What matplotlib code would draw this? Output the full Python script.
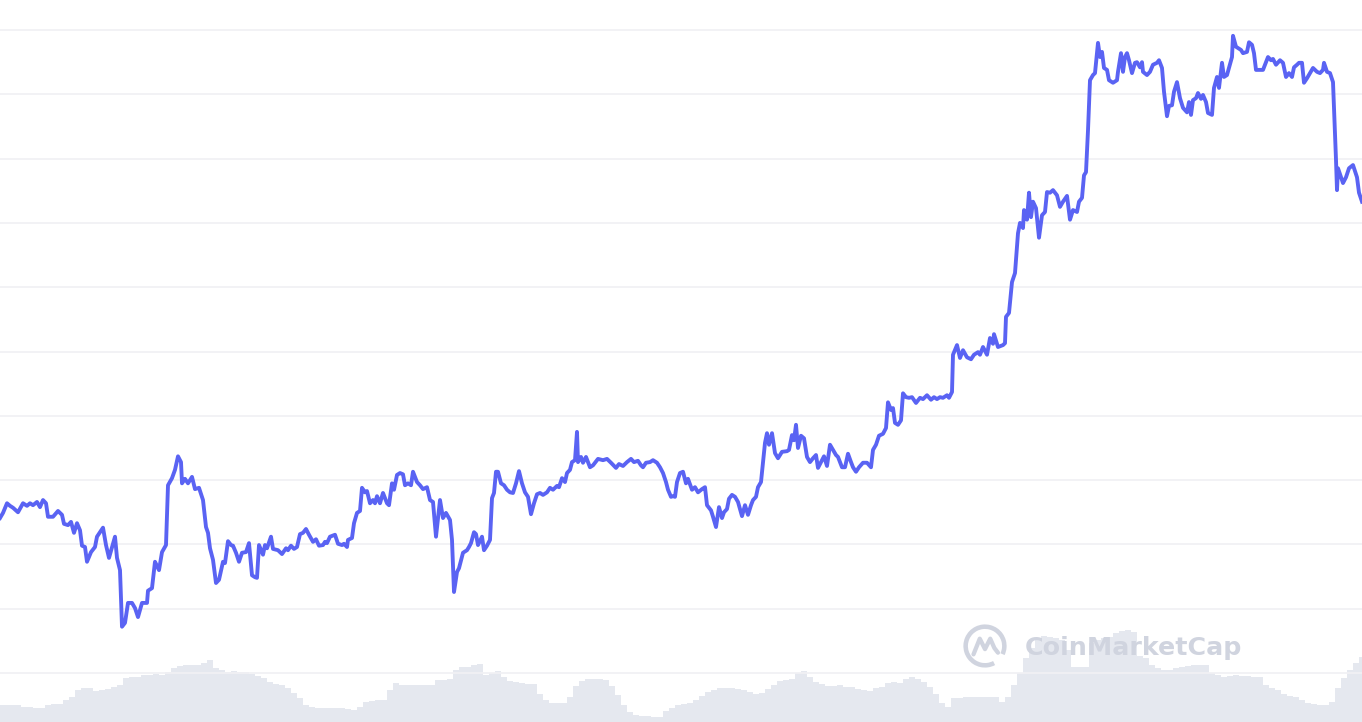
import matplotlib
matplotlib.use("Agg")
import matplotlib.pyplot as plt
from matplotlib.patches import Arc
import numpy as np

# price series (time index, price units; gridlines every 10 units)
T = [0, 3, 7, 10, 13, 18, 23, 27, 30, 33, 37, 40, 43, 46, 48, 53, 58, 62, 64, 68,
     71, 74, 77, 80, 82, 85, 87, 91, 95, 97, 103, 106, 109, 115, 117, 120, 122, 125, 128, 132,
     135, 138, 142, 147, 148, 152, 155, 159, 162, 166, 168, 172, 175, 178, 181, 182, 185, 188, 192, 195,
     199, 203, 206, 208, 210, 213, 216, 219, 223, 225, 228, 231, 233, 236, 239, 242, 246, 249, 252, 255,
     257, 259, 263, 265, 267, 271, 273, 278, 282, 286, 288, 291, 294, 297, 300, 303, 306, 309, 313, 316,
     319, 323, 325, 327, 330, 335, 338, 342, 344, 347, 348, 352, 354, 357, 360, 362, 365, 367, 370, 373,
     375, 377, 380, 383, 387, 389, 392, 394, 397, 400, 403, 405, 408, 411, 413, 417, 420, 423, 427, 430,
     433, 436, 440, 443, 446, 450, 452, 454, 457, 459, 463, 467, 469, 471, 474, 476, 478, 482, 484, 487,
     490, 492, 494, 496, 498, 501, 504, 507, 510, 513, 516, 519, 522, 525, 528, 531, 534, 537, 540, 543,
     547, 550, 553, 557, 559, 562, 565, 567, 570, 572, 575, 577, 578, 581, 583, 586, 590, 593, 598, 603,
     607, 611, 616, 619, 623, 627, 631, 634, 638, 641, 643, 646, 650, 653, 657, 660, 663, 666, 668, 671,
     673, 675, 677, 680, 683, 686, 688, 692, 695, 698, 702, 705, 707, 711, 713, 716, 719, 722, 724, 727,
     729, 732, 735, 738, 742, 745, 748, 751, 753, 756, 758, 761, 763, 765, 767, 769, 772, 775, 778, 782,
     787, 789, 792, 794, 796, 798, 801, 804, 807, 810, 813, 816, 818, 822, 824, 827, 830, 833, 836, 838,
     842, 845, 848, 851, 853, 856, 859, 863, 867, 871, 873, 876, 879, 883, 886, 888, 891, 893, 895, 898,
     901, 903, 906, 909, 912, 916, 920, 923, 927, 931, 934, 937, 940, 943, 947, 949, 952, 953, 957, 960,
     963, 967, 971, 974, 978, 980, 983, 987, 990, 993, 994, 998, 1003, 1005, 1006, 1009, 1012, 1015, 1018, 1020,
     1023, 1024, 1027, 1029, 1031, 1033, 1036, 1039, 1042, 1045, 1047, 1050, 1053, 1057, 1060, 1063, 1067, 1070, 1073, 1077,
     1079, 1082, 1084, 1086, 1088, 1090, 1093, 1095, 1097, 1098, 1100, 1102, 1104, 1107, 1109, 1113, 1117, 1118, 1121, 1123,
     1125, 1127, 1129, 1132, 1135, 1137, 1140, 1142, 1143, 1147, 1150, 1153, 1157, 1159, 1162, 1164, 1167, 1169, 1172, 1174,
     1177, 1180, 1183, 1187, 1189, 1191, 1193, 1196, 1198, 1201, 1203, 1206, 1208, 1212, 1214, 1217, 1219, 1222, 1224, 1227,
     1229, 1232, 1233, 1236, 1238, 1241, 1243, 1247, 1249, 1252, 1254, 1256, 1260, 1263, 1266, 1268, 1271, 1273, 1276, 1280,
     1283, 1286, 1289, 1292, 1294, 1297, 1299, 1302, 1304, 1307, 1310, 1313, 1317, 1320, 1323, 1324, 1327, 1330, 1333, 1334,
     1336, 1337, 1338, 1341, 1343, 1346, 1349, 1353, 1357, 1359, 1362]

PRICE = [24.1, 24.9, 26.4, 26.0, 25.7, 25.0, 26.4, 26.0, 26.4, 26.1, 26.6, 25.8, 26.9, 26.4, 24.3, 24.3, 25.2, 24.6, 23.2, 23.0,
         23.5, 21.8, 23.3, 22.2, 19.8, 19.6, 17.3, 18.8, 19.6, 21.2, 22.6, 19.9, 17.9, 21.2, 17.9, 16.0, 7.2, 7.8, 10.9, 10.9,
         10.1, 8.7, 10.9, 10.9, 12.8, 13.2, 17.3, 16.0, 18.8, 19.9, 29.2, 30.3, 31.6, 33.7, 32.8, 29.5, 30.2, 29.5, 30.5, 28.6,
         28.8, 26.9, 22.7, 21.8, 19.4, 17.6, 14.0, 14.5, 17.3, 17.1, 20.5, 19.9, 19.8, 18.7, 17.3, 18.7, 18.8, 20.2, 15.2, 14.9,
         14.8, 19.9, 18.4, 19.9, 19.4, 21.2, 19.3, 19.1, 18.5, 19.4, 19.1, 19.8, 19.3, 19.6, 21.6, 21.8, 22.4, 21.5, 20.4, 20.8,
         19.8, 19.9, 20.4, 20.2, 21.2, 21.5, 20.1, 19.9, 20.1, 19.6, 20.7, 21.0, 23.3, 24.9, 25.2, 28.8, 28.1, 28.3, 26.4, 26.9,
         26.4, 27.5, 26.4, 28.0, 26.4, 26.1, 29.5, 28.5, 30.8, 31.1, 30.9, 29.2, 29.5, 29.2, 31.3, 29.7, 29.2, 28.6, 28.9, 26.9,
         26.6, 21.2, 26.9, 24.1, 24.9, 23.8, 20.7, 12.6, 15.7, 16.3, 18.7, 19.1, 19.6, 20.2, 21.9, 21.6, 19.9, 21.2, 19.1, 19.8,
         20.7, 27.2, 28.0, 31.3, 31.3, 29.5, 29.2, 28.5, 28.1, 28.0, 29.5, 31.4, 29.5, 28.1, 27.4, 24.7, 26.4, 27.8, 28.0, 27.7,
         28.1, 28.8, 28.5, 29.1, 28.9, 30.3, 29.7, 31.1, 31.6, 32.8, 33.1, 37.5, 32.8, 33.6, 32.7, 33.6, 32.0, 32.3, 33.3, 33.1,
         33.3, 32.7, 31.9, 32.5, 32.2, 32.8, 33.3, 32.8, 33.0, 32.3, 32.0, 32.7, 32.8, 33.1, 32.7, 32.0, 31.1, 29.7, 28.5, 27.4,
         27.5, 27.4, 29.7, 31.1, 31.3, 29.5, 30.2, 28.5, 28.9, 28.1, 28.6, 28.9, 26.1, 25.3, 24.3, 22.7, 25.8, 24.1, 25.0, 25.5,
         27.1, 27.7, 27.4, 26.6, 24.4, 26.1, 24.6, 26.1, 26.9, 27.4, 28.9, 29.7, 32.7, 35.8, 37.3, 35.5, 37.3, 34.2, 33.4, 34.4,
         34.5, 34.7, 37.0, 36.2, 38.6, 35.0, 36.9, 36.5, 33.6, 32.8, 33.4, 33.9, 31.9, 33.1, 33.7, 32.2, 35.5, 34.7, 33.9, 33.6,
         32.0, 32.0, 34.1, 32.8, 32.0, 31.3, 32.0, 32.7, 32.7, 32.0, 34.7, 35.5, 36.9, 37.2, 38.1, 42.1, 40.9, 41.2, 38.9, 38.6,
         39.3, 43.5, 42.9, 42.8, 42.9, 42.0, 42.8, 42.6, 43.2, 42.5, 42.9, 42.6, 42.9, 42.8, 43.2, 42.8, 43.7, 49.5, 51.0, 49.0,
         50.2, 49.1, 48.8, 49.5, 49.9, 49.5, 50.7, 49.5, 52.1, 51.2, 52.7, 50.7, 51.0, 51.3, 55.4, 56.0, 60.8, 62.2, 68.4, 70.0,
         69.2, 72.0, 70.5, 74.7, 70.9, 73.3, 72.3, 67.7, 71.2, 71.7, 74.8, 74.7, 75.1, 74.3, 72.5, 73.3, 74.2, 70.5, 72.0, 71.7,
         73.3, 73.9, 77.4, 77.9, 84.4, 92.2, 93.0, 93.3, 96.4, 98.0, 95.8, 96.6, 94.1, 93.8, 92.2, 91.8, 92.2, 93.5, 96.4, 93.5,
         95.8, 96.4, 95.3, 93.3, 94.9, 95.0, 94.2, 95.0, 93.5, 93.0, 93.5, 94.6, 94.9, 95.3, 94.1, 90.4, 86.6, 88.2, 88.3, 90.4,
         91.9, 89.4, 87.9, 87.2, 88.8, 86.8, 89.1, 89.4, 90.2, 89.3, 89.9, 88.8, 87.1, 86.8, 91.0, 92.7, 91.0, 94.9, 92.7, 93.0,
         94.1, 95.8, 99.1, 97.4, 97.2, 96.9, 96.4, 96.6, 98.1, 97.7, 96.4, 93.8, 93.8, 93.8, 95.0, 95.8, 95.3, 95.5, 94.6, 95.3,
         94.9, 92.7, 93.3, 92.7, 94.2, 94.6, 94.9, 94.9, 91.8, 92.5, 93.3, 94.1, 93.5, 93.3, 93.8, 94.9, 93.5, 93.3, 91.9, 88.0,
         79.8, 75.1, 78.5, 77.1, 76.2, 77.1, 78.5, 79.0, 77.1, 74.7, 73.3]

# volume, one bar every 6 time steps
VOL_T = list(range(0, 1363, 6))
VOLUME = [1.7, 1.7, 1.7, 1.7, 1.5, 1.5, 1.4, 1.4, 1.7, 1.8, 1.8, 2.2, 2.5, 3.2, 3.4, 3.4, 3.1, 3.2, 3.3, 3.5,
          3.7, 4.4, 4.5, 4.5, 4.7, 4.7, 4.8, 4.7, 5.0, 5.4, 5.6, 5.7, 5.7, 5.7, 5.9, 6.2, 5.4, 5.2, 5.0, 5.1,
          5.0, 5.0, 4.8, 4.6, 4.4, 4.0, 3.8, 3.7, 3.4, 2.9, 2.4, 1.7, 1.5, 1.4, 1.4, 1.4, 1.4, 1.4, 1.3, 1.2,
          1.5, 2.0, 2.1, 2.2, 2.2, 3.2, 3.9, 3.7, 3.7, 3.7, 3.7, 3.7, 3.7, 4.2, 4.2, 4.3, 5.2, 5.5, 5.5, 5.7,
          5.8, 4.7, 4.9, 5.1, 4.5, 4.1, 4.0, 3.9, 3.8, 3.8, 2.8, 2.2, 1.9, 1.9, 1.9, 2.5, 3.6, 4.1, 4.3, 4.3,
          4.3, 4.2, 3.6, 2.7, 1.7, 1.0, 0.7, 0.6, 0.6, 0.5, 0.5, 1.1, 1.4, 1.7, 1.8, 1.9, 2.2, 2.6, 3.0, 3.2,
          3.4, 3.4, 3.4, 3.3, 3.2, 3.0, 2.8, 2.9, 3.3, 3.7, 4.1, 4.2, 4.3, 4.9, 5.1, 4.5, 4.0, 3.8, 3.6, 3.6,
          3.7, 3.5, 3.5, 3.3, 3.2, 3.1, 3.4, 3.5, 3.9, 4.0, 3.9, 4.3, 4.5, 4.3, 4.0, 3.5, 2.8, 1.9, 1.5, 2.4,
          2.4, 2.5, 2.5, 2.5, 2.5, 2.5, 2.5, 2.0, 2.5, 3.7, 4.9, 6.4, 7.4, 8.2, 8.6, 8.5, 8.4, 8.2, 7.2, 5.5,
          5.5, 5.5, 7.9, 8.2, 8.4, 8.5, 8.9, 9.1, 9.2, 9.0, 6.6, 6.4, 5.7, 5.4, 5.2, 5.2, 5.4, 5.5, 5.6, 5.7,
          5.7, 5.7, 4.9, 4.7, 4.5, 4.6, 4.7, 4.6, 4.6, 4.5, 4.5, 3.7, 3.4, 3.2, 2.8, 2.6, 2.5, 2.2, 1.9, 1.8,
          1.7, 1.7, 2.0, 3.4, 4.4, 5.2, 5.9, 6.5]

GRID_LEVELS = list(range(0, 101, 10))

LINE_COLOR = "#5a63f3"
VOL_COLOR = "#cdd2e0"
GRID_COLOR = "#f1f1f4"
MARK_COLOR = "#d0d4df"

DPI = 96
plt.rcParams["hatch.linewidth"] = 0.75


def main():
    fig = plt.figure(figsize=(1362 / DPI, 722 / DPI), dpi=DPI)

    # volume underneath, drawn as fine vertical stripes
    ax_v = fig.add_axes([0, 0, 1, 1])
    ax_v.bar(VOL_T, VOLUME, width=6, facecolor="none", edgecolor=VOL_COLOR,
             hatch="|" * 8, linewidth=0)
    ax_v.set_xlim(0, 1362)
    ax_v.set_ylim(0, 72.2)
    ax_v.axis("off")

    # price line on top
    ax = fig.add_axes([0, 0, 1, 1])
    ax.set_zorder(2)
    ax.patch.set_visible(False)
    for lvl in GRID_LEVELS:
        ax.axhline(lvl, color=GRID_COLOR, linewidth=1.3, zorder=1)
    ax.plot(T, PRICE, color=LINE_COLOR, linewidth=2.9, solid_joinstyle="round", zorder=3)
    ax.set_xlim(0, 1362)
    ax.set_ylim(-7.62, 104.67)
    ax.axis("off")

    # watermark
    ax_logo = fig.add_axes([962 / 1362, (722 - 670) / 722, 46 / 1362, 48 / 722])
    ax_logo.set_xlim(-1.1, 1.1)
    ax_logo.set_ylim(-1.15, 1.15)
    ax_logo.axis("off")
    ax_logo.set_zorder(3)
    ax_logo.add_patch(Arc((0, 0), 1.85, 1.85, theta1=-25, theta2=298,
                          color=MARK_COLOR, linewidth=3.4))
    ax_logo.plot([-0.55, -0.25, 0.0, 0.25, 0.45, 0.62], [-0.4, 0.35, -0.15, 0.35, -0.1, -0.32],
                 color=MARK_COLOR, linewidth=3.2, solid_joinstyle="round", solid_capstyle="round")
    fig.text(1025 / 1362, (722 - 648) / 722, "CoinMarketCap", ha="left", va="center",
             fontsize=19, fontweight="bold", color=MARK_COLOR, zorder=4)

    fig.savefig("out.png", dpi=DPI)
    plt.close(fig)


if __name__ == "__main__":
    main()
